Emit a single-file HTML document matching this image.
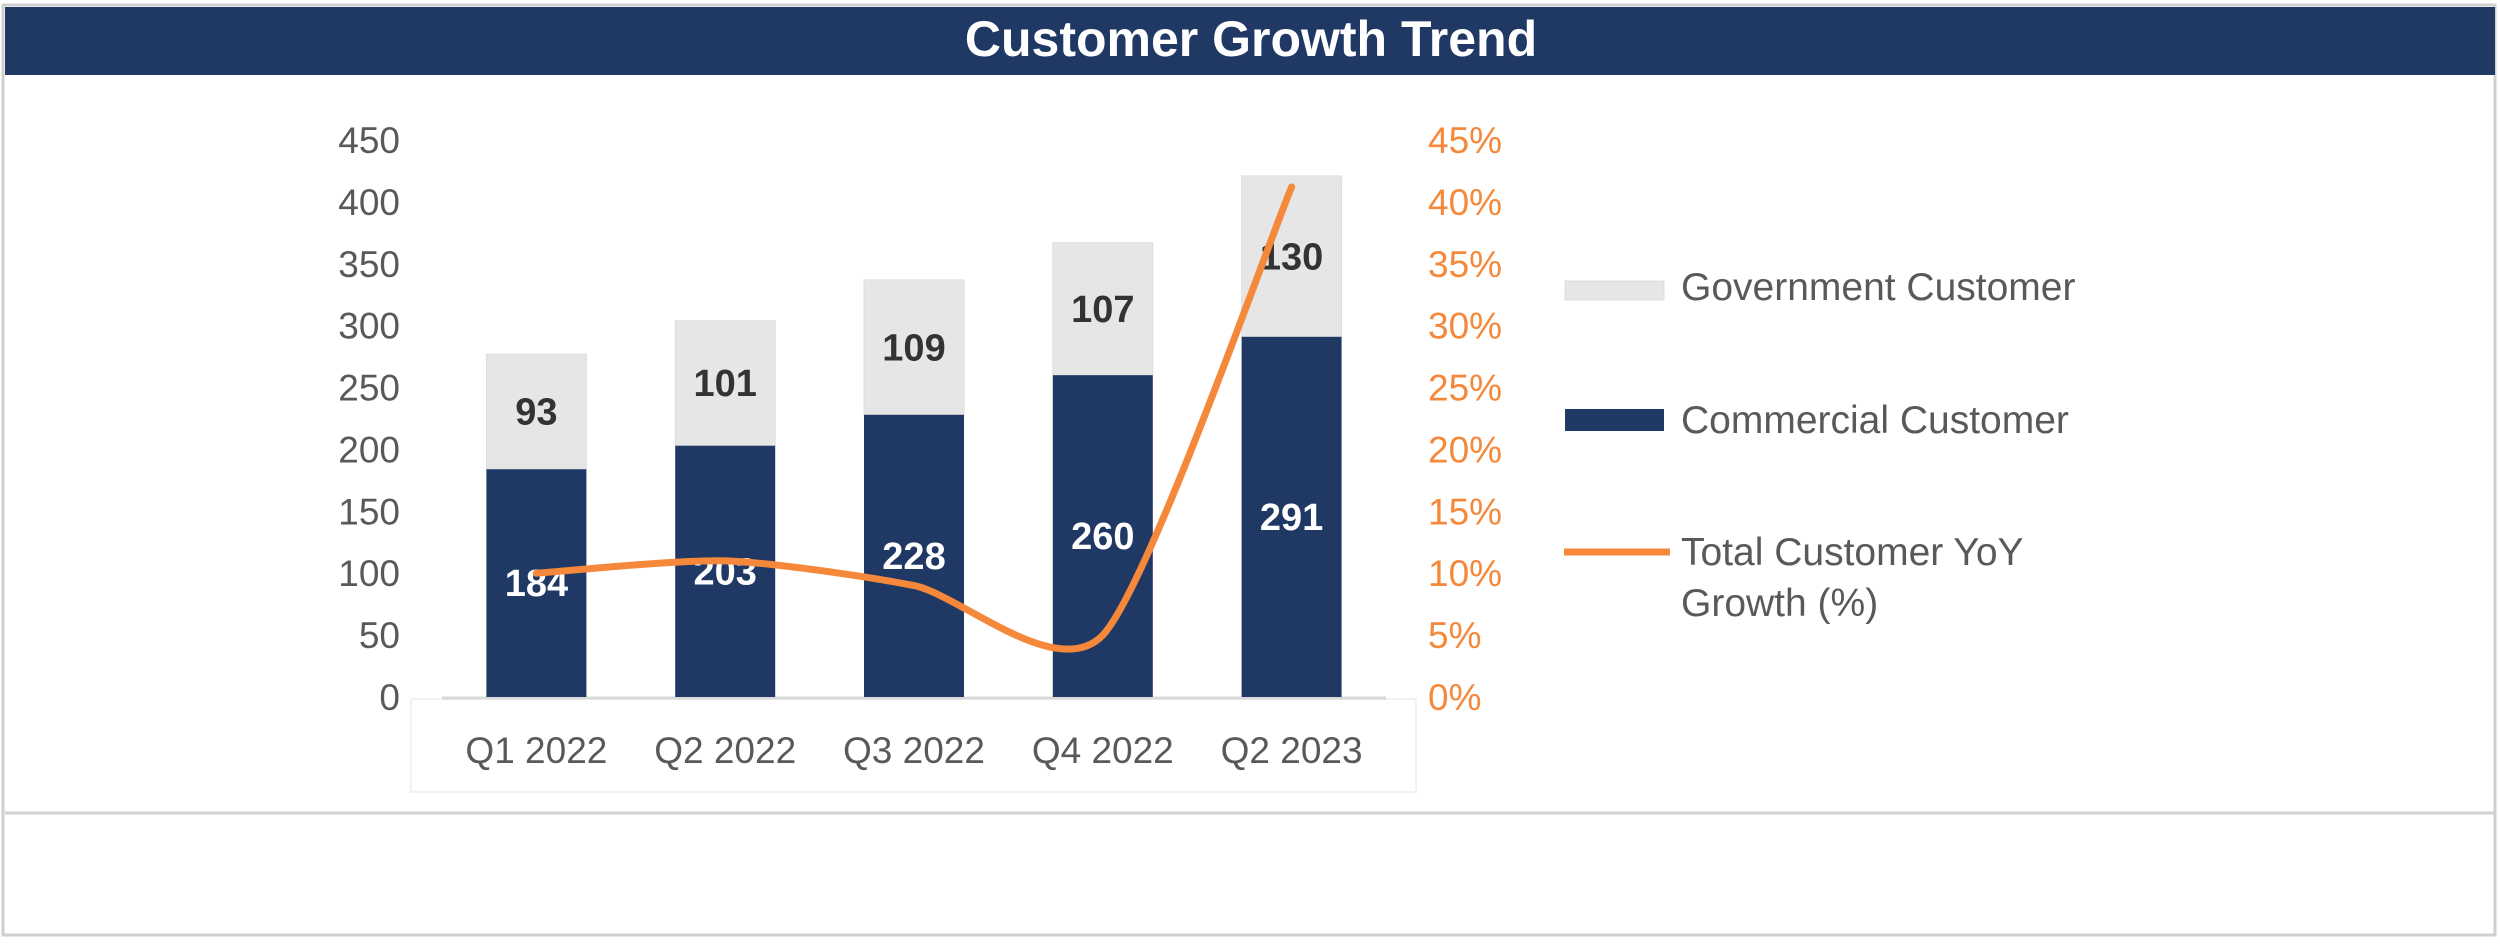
<!DOCTYPE html>
<html><head><meta charset="utf-8"><style>
html,body{margin:0;padding:0;background:#fff;}
body{width:2500px;height:940px;overflow:hidden;font-family:"Liberation Sans",sans-serif;}
</style></head><body>
<svg id="chart" width="2500" height="940" viewBox="0 0 2500 940" xmlns="http://www.w3.org/2000/svg" font-family="Liberation Sans, sans-serif">
  <rect x="3" y="5" width="2492" height="930" fill="#fff" stroke="#cfcfcf" stroke-width="3"/>
  <rect x="5" y="7" width="2490" height="68" fill="#203864"/>
  <text x="1251" y="56" text-anchor="middle" fill="#fff" font-size="50" font-weight="bold">Customer Growth Trend</text>
  <line x1="5" y1="813" x2="2495" y2="813" stroke="#d0d0d0" stroke-width="3"/>
  <rect x="411" y="699" width="1005" height="93" fill="none" stroke="#f2f2f2" stroke-width="2"/>
  <g id="plot"></g>
  <g>
    <rect x="1565" y="281" width="99" height="19" fill="#e6e6e6" stroke="#dcdcdc" stroke-width="1"/>
    <text x="1681" y="300" font-size="39" fill="#595959">Government Customer</text>
    <rect x="1565" y="409" width="99" height="22" fill="#203864"/>
    <text x="1681" y="433" font-size="39" fill="#595959">Commercial Customer</text>
    <line x1="1564" y1="552" x2="1670" y2="552" stroke="#F5883A" stroke-width="7"/>
    <text x="1681" y="565" font-size="39" fill="#595959">Total Customer YoY</text>
    <text x="1681" y="616" font-size="39" fill="#595959">Growth (%)</text>
  </g>
</svg>
<script>
const categories = ["Q1 2022","Q2 2022","Q3 2022","Q4 2022","Q2 2023"];
const commercial = [184,203,228,260,291];
const government = [93,101,109,107,130];
const yoyGrowth = [10.0,11.0,9.0,5.0,41.2];
const leftTicks = [0,50,100,150,200,250,300,350,400,450];
const rightTicks = [0,5,10,15,20,25,30,35,40,45];

const NS="http://www.w3.org/2000/svg";
const g=document.getElementById('plot');
const x0=442,x1=1386,y0=697,yTop=140;
const yL=v=>y0-(v/450)*(y0-yTop);
const yR=v=>y0-(v/45)*(y0-yTop);
const band=(x1-x0)/categories.length;
const xC=i=>x0+band*(i+0.5);
const barW=100;
function mk(tag,attrs){const e=document.createElementNS(NS,tag);for(const k in attrs)e.setAttribute(k,attrs[k]);g.appendChild(e);return e;}

leftTicks.forEach(t=>{
  const e=mk('text',{x:400,y:yL(t)+13,'text-anchor':'end','font-size':37,fill:'#595959'});
  
  
  e.textContent=t;
});
rightTicks.forEach(t=>{
  const e=mk('text',{x:1428,y:yR(t)+13,'font-size':37,fill:'#F5883A'});
  
  
  e.textContent=t+'%';
});
const base=mk('line',{x1:x0,y1:y0+1,x2:x1,y2:y0+1,stroke:'#d9d9d9','stroke-width':3});



categories.forEach((c,i)=>{
  const cx=xC(i);
  const yc=yL(commercial[i]), yg=yL(commercial[i]+government[i]);
  const gb=mk('rect',{x:cx-barW/2,y:yg,width:barW,height:yc-yg,fill:'#e6e6e6',stroke:'#dedede','stroke-width':1});
  
  
  const cb=mk('rect',{x:cx-barW/2,y:yc,width:barW,height:y0-yc,fill:'#203864'});
  
  
  const gl=mk('text',{x:cx,y:(yc+yg)/2+13,'text-anchor':'middle','font-size':38,'font-weight':'bold',fill:'#333'});
  
  
  gl.textContent=government[i];
  const cl=mk('text',{x:cx,y:(yc+y0)/2+13,'text-anchor':'middle','font-size':38,'font-weight':'bold',fill:'#fff'});
  
  
  cl.textContent=commercial[i];
  const xl=mk('text',{x:cx,y:763,'text-anchor':'middle','font-size':37,fill:'#595959'});
  
  
  xl.textContent=c;
});

const pts=yoyGrowth.map((v,i)=>[xC(i),yR(v)]);
let d='M'+pts[0][0]+','+pts[0][1];
for(let i=0;i<pts.length-1;i++){
  const p0=pts[Math.max(0,i-1)],p1=pts[i],p2=pts[i+1],p3=pts[Math.min(pts.length-1,i+2)];
  const t=0.12;
  const c1=[p1[0]+(p2[0]-p0[0])*t,p1[1]+(p2[1]-p0[1])*t];
  const c2=[p2[0]-(p3[0]-p1[0])*t,p2[1]-(p3[1]-p1[1])*t];
  d+=' C'+c1[0]+','+c1[1]+' '+c2[0]+','+c2[1]+' '+p2[0]+','+p2[1];
}
const ln=mk('path',{d:d,fill:'none',stroke:'#F5883A','stroke-width':7,'stroke-linecap':'round'});


</script>
</body></html>
